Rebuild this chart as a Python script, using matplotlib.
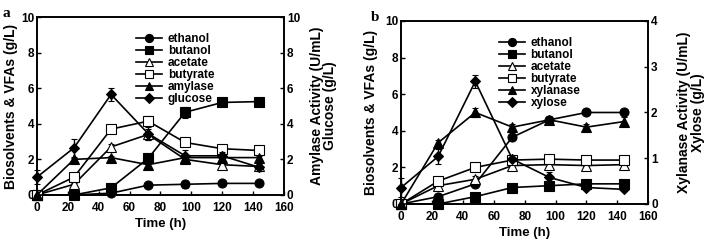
import matplotlib.pyplot as plt

plt.rcParams['font.family'] = ['Liberation Sans', 'DejaVu Sans']
plt.rcParams['font.weight'] = 'bold'

time = [0, 24, 48, 72, 96, 120, 144]

# panel a (starch)
ethanol_a = [0, 0, 0.1, 0.55, 0.6, 0.65, 0.65]
butanol_a = [0, 0, 0.4, 2.05, 4.65, 5.2, 5.25]
acetate_a = [0, 0.6, 2.7, 3.4, 2.0, 1.7, 1.6]
butyrate_a = [0, 1.0, 3.7, 4.15, 2.95, 2.6, 2.5]
amylase_a = [0, 2.0, 2.1, 1.7, 2.1, 2.1, 2.1]
glucose_a = [1.0, 2.65, 5.65, 3.45, 2.2, 2.2, 1.55]
err_ethanol_a = [0, 0, 0.05, 0.05, 0.2, 0.1, 0.15]
err_butanol_a = [0, 0, 0.1, 0.2, 0.3, 0.2, 0.1]
err_acetate_a = [0, 0.1, 0.15, 0.3, 0.15, 0.1, 0.1]
err_butyrate_a = [0, 0.1, 0.1, 0.3, 0.15, 0.1, 0.1]
err_amylase_a = [0, 0.1, 0.1, 0.25, 0.1, 0.1, 0.1]
err_glucose_a = [0.4, 0.5, 0.35, 0.35, 0.35, 0.2, 0.2]

# panel b (xylan)
ethanol_b = [0, 0.4, 1.1, 3.65, 4.6, 5.0, 5.0]
butanol_b = [0, 0, 0.4, 0.9, 1.0, 1.1, 1.1]
acetate_b = [0, 1.0, 1.35, 2.1, 2.15, 2.1, 2.15]
butyrate_b = [0, 1.25, 2.0, 2.4, 2.45, 2.4, 2.4]
xylanase_b = [0, 1.34, 2.0, 1.68, 1.84, 1.68, 1.8]
xylose_b = [0.36, 1.04, 2.68, 0.98, 0.58, 0.36, 0.32]
err_ethanol_b = [0, 0.1, 0.1, 0.1, 0.1, 0.1, 0.1]
err_butanol_b = [0, 0, 0.05, 0.05, 0.1, 0.1, 0.1]
err_acetate_b = [0, 0.1, 0.2, 0.1, 0.1, 0.05, 0.05]
err_butyrate_b = [0, 0.1, 0.1, 0.1, 0.1, 0.05, 0.05]
err_xylanase_b = [0, 0.06, 0.1, 0.06, 0.08, 0.06, 0.1]
err_xylose_b = [0.2, 0.16, 0.15, 0.05, 0.12, 0.06, 0.04]

styles = [('o', 'black'), ('s', 'black'), ('^', 'white'), ('s', 'white'), ('^', 'black'), ('D', 'black')]


def draw(ax, ax2, left_series, right_series, names, ylabelpad):
    handles = []
    for i, (y, e) in enumerate(left_series + right_series):
        target = ax if i < 4 else ax2
        m, fc = styles[i]
        ms = 5.5 if m == 'D' else 6.5
        h = target.errorbar(time, y, yerr=e, color='black', marker=m, mfc=fc, mec='black',
                            ms=ms, lw=1.2, capsize=2.5, elinewidth=1, mew=0.8, zorder=3)
        for art in h.get_children():
            art.set_clip_on(False)
        handles.append(h[0])  # line only, no error bar in legend
    ax.legend(handles, names, loc='upper center', bbox_to_anchor=(0.56, 0.97), frameon=False,
              handlelength=2.2, labelspacing=0.0, handletextpad=0.5, markerscale=0.9,
              prop={'weight': 'bold', 'size': 8.5})
    ax.set_xlim(0, 160)
    ax.set_xticks(range(0, 161, 20))
    ax.set_ylim(0, 10)
    ax.set_yticks(range(0, 11, 2))
    ax.set_xlabel('Time (h)', fontsize=9.5, fontweight='bold', labelpad=3)
    ax.set_ylabel('Biosolvents & VFAs (g/L)', fontsize=10, fontweight='bold', labelpad=ylabelpad)
    for a in (ax, ax2):
        a.tick_params(direction='in', labelsize=8.5, width=1, length=3, pad=2)
        a.tick_params(axis='x', pad=5)
        for s in a.spines.values():
            s.set_linewidth(1.2)


fig = plt.figure(figsize=(7.1, 2.44), dpi=100)

ax = fig.add_axes([0.052, 0.201, 0.348, 0.729])
ax2 = ax.twinx()
draw(ax, ax2,
     [(ethanol_a, err_ethanol_a), (butanol_a, err_butanol_a), (acetate_a, err_acetate_a), (butyrate_a, err_butyrate_a)],
     [(amylase_a, err_amylase_a), (glucose_a, err_glucose_a)],
     ['ethanol', 'butanol', 'acetate', 'butyrate', 'amylase', 'glucose'], 2)
ax2.set_ylim(0, 10)
ax2.set_yticks(range(0, 11, 2))
ax2.set_ylabel('Amylase Activity (U/mL)\nGlucose (g/L)', fontsize=10, fontweight='bold',
               linespacing=0.95, labelpad=7)
fig.text(0.003, 0.93, 'a', family='Liberation Serif', fontweight='bold', fontsize=11)

bx = fig.add_axes([0.565, 0.164, 0.348, 0.75])
bx2 = bx.twinx()
draw(bx, bx2,
     [(ethanol_b, err_ethanol_b), (butanol_b, err_butanol_b), (acetate_b, err_acetate_b), (butyrate_b, err_butyrate_b)],
     [(xylanase_b, err_xylanase_b), (xylose_b, err_xylose_b)],
     ['ethanol', 'butanol', 'acetate', 'butyrate', 'xylanase', 'xylose'], 5)
bx2.set_ylim(0, 4)
bx2.set_yticks(range(0, 5))
bx2.set_ylabel('Xylanase Activity (U/mL)\nXylose (g/L)', fontsize=10, fontweight='bold',
               linespacing=0.95, labelpad=14)
fig.text(0.522, 0.915, 'b', family='Liberation Serif', fontweight='bold', fontsize=11)

fig.savefig('out.png', dpi=100)
